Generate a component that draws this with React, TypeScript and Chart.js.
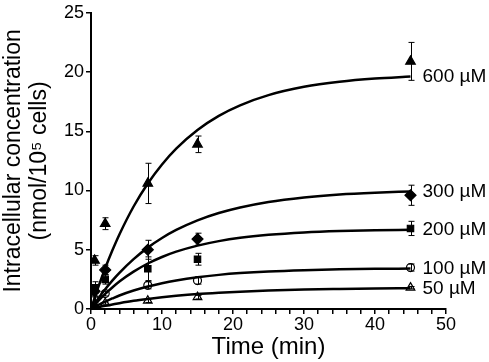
import React, { useEffect, useRef } from "react";
import { Chart, registerables } from "chart.js";

Chart.register(...registerables);

// Measured time points (min)
const timePoints = [0.5, 2, 8, 15, 45];
// Mean intracellular concentration (nmol/10^5 cells)
const conc600 = [4.1, 7.2, 10.6, 13.9, 20.9];
const conc300 = [1.5, 3.3, 5.0, 5.9, 9.6];
const conc200 = [1.8, 2.5, 3.4, 4.2, 6.8];
const conc100 = [0.8, 1.3, 2.0, 2.4, 3.5];
const conc50 = [0.3, 0.5, 0.7, 1.0, 1.8];
// Error bars (SD)
const err600 = [0.4, 0.5, 1.7, 0.7, 1.6];
const err300 = [0.4, 0.4, 0.8, 0.5, 0.85];
const err200 = [0.5, 0.4, 1.0, 0.5, 0.6];
const err100 = [0.2, 0.2, 0.3, 0.3, 0.3];
const err50 = [0.1, 0.1, 0.15, 0.15, 0.1];

// Fitted curves
const fitTimes = [0, 1, 2, 3, 4, 6, 8, 10, 12, 15, 18, 21, 25, 30, 35, 40, 45];
const fit600 = [0, 1.8, 3.44, 4.93, 6.29, 8.65, 10.59, 12.2, 13.54, 15.11, 16.3, 17.19, 18.05, 18.75, 19.18, 19.45, 19.62];
const fit300 = [0, 0.87, 1.66, 2.39, 3.05, 4.21, 5.18, 5.99, 6.67, 7.48, 8.1, 8.57, 9.04, 9.42, 9.67, 9.82, 9.92];
const fit200 = [0, 0.67, 1.28, 1.82, 2.32, 3.15, 3.84, 4.39, 4.84, 5.35, 5.73, 6.01, 6.26, 6.46, 6.58, 6.65, 6.69];
const fit100 = [0, 0.33, 0.63, 0.89, 1.14, 1.56, 1.9, 2.18, 2.41, 2.68, 2.88, 3.03, 3.17, 3.28, 3.35, 3.39, 3.41];
const fit50 = [0, 0.14, 0.27, 0.38, 0.49, 0.69, 0.85, 0.99, 1.11, 1.26, 1.37, 1.46, 1.56, 1.64, 1.69, 1.73, 1.75];

const seriesLabels = ["600 µM", "300 µM", "200 µM", "100 µM", "50 µM"];

const FONT = "'Liberation Sans', Arial, sans-serif";

export default function App() {
  const ref = useRef<HTMLCanvasElement | null>(null);

  useEffect(() => {
    if (!ref.current) return;
    const means = [conc600, conc300, conc200, conc100, conc50];
    const errs = [err600, err300, err200, err100, err50];
    const fits = [fit600, fit300, fit200, fit100, fit50];
    const styles: any[] = [
      { pointStyle: "triangle", radius: 5.5, fill: "#000" },
      { pointStyle: "rectRot", radius: 5.5, fill: "#000" },
      { pointStyle: "rect", radius: 4.5, fill: "#000" },
      { pointStyle: "circle", radius: 4, fill: "rgba(255,255,255,0)" },
      { pointStyle: "triangle", radius: 5, fill: "rgba(255,255,255,0)" },
    ];

    const datasets: any[] = [];
    fits.forEach((f) => {
      datasets.push({
        type: "line",
        data: fitTimes.map((t, j) => ({ x: t, y: f[j] })),
        borderColor: "#000",
        borderWidth: 2.5,
        pointRadius: 0,
        cubicInterpolationMode: "monotone",
        fill: false,
      });
    });
    means.forEach((m, i) => {
      datasets.push({
        type: "scatter",
        data: timePoints.map((t, j) => ({ x: t, y: m[j] })),
        pointStyle: styles[i].pointStyle,
        pointRadius: styles[i].radius,
        pointBackgroundColor: styles[i].fill,
        pointBorderColor: "#000",
        pointBorderWidth: 1.2,
        showLine: false,
      });
    });

    const errorBars = {
      id: "errorBars",
      afterDatasetsDraw(chart: any) {
        const ctx = chart.ctx;
        const xs = chart.scales.x;
        const ys = chart.scales.y;
        ctx.save();
        ctx.strokeStyle = "#000";
        ctx.lineWidth = 1;
        means.forEach((m, i) => {
          timePoints.forEach((t, j) => {
            const px = Math.round(xs.getPixelForValue(t)) + 0.5;
            const top = ys.getPixelForValue(m[j] + errs[i][j]);
            const bot = ys.getPixelForValue(Math.max(0, m[j] - errs[i][j]));
            ctx.beginPath();
            ctx.moveTo(px, top);
            ctx.lineTo(px, bot);
            ctx.moveTo(px - 3, top);
            ctx.lineTo(px + 3, top);
            ctx.moveTo(px - 3, bot);
            ctx.lineTo(px + 3, bot);
            ctx.stroke();
          });
        });
        ctx.fillStyle = "#000";
        ctx.font = `19px ${FONT}`;
        ctx.textAlign = "left";
        ctx.textBaseline = "middle";
        fits.forEach((f, i) => {
          const px = xs.getPixelForValue(45) + 12;
          const py = ys.getPixelForValue(f[f.length - 1]);
          ctx.fillText(seriesLabels[i], px, py);
        });
        ctx.restore();
      },
    };

    const chart = new Chart(ref.current, {
      type: "scatter",
      data: { datasets },
      plugins: [errorBars],
      options: {
        animation: false,
        responsive: false,
        layout: { padding: { left: 0, right: 43, top: 8, bottom: 0 } },
        plugins: { legend: { display: false }, tooltip: { enabled: false } },
        scales: {
          x: {
            type: "linear",
            min: 0,
            max: 50,
            afterFit(scale: any) {
              scale.height = 53;
            },
            border: { display: true, color: "#000", width: 2 },
            grid: { drawOnChartArea: false, drawTicks: true, tickLength: 5, color: "#000", lineWidth: 1.5 },
            ticks: {
              stepSize: 2,
              autoSkip: false,
              maxRotation: 0,
              color: "#000",
              padding: 0,
              font: { family: FONT, size: 18 },
              callback: (v: any) => (Number(v) % 10 === 0 ? String(v) : ""),
            },
            title: {
              display: true,
              text: "Time (min)",
              color: "#000",
              font: { family: FONT, size: 24 },
              padding: { top: 0, bottom: 0 },
            },
          },
          y: {
            type: "linear",
            min: 0,
            max: 25,
            afterFit(scale: any) {
              scale.width = 91;
            },
            border: { display: true, color: "#000", width: 2 },
            grid: { drawOnChartArea: false, drawTicks: true, tickLength: 5, color: "#000", lineWidth: 1.5 },
            ticks: {
              stepSize: 5,
              color: "#000",
              padding: 2,
              font: { family: FONT, size: 18 },
            },
            title: {
              display: true,
              text: ["Intracellular concentration", "(nmol/10⁵ cells)"],
              color: "#000",
              font: { family: FONT, size: 23, lineHeight: 1.15 },
              padding: { top: 0, bottom: 0 },
            },
          },
        },
      },
    });
    return () => chart.destroy();
  }, []);

  return (
    <div style={{ position: "absolute", left: 0, top: 0, width: 489, height: 362 }}>
      <canvas ref={ref} width={489} height={362} />
    </div>
  );
}
